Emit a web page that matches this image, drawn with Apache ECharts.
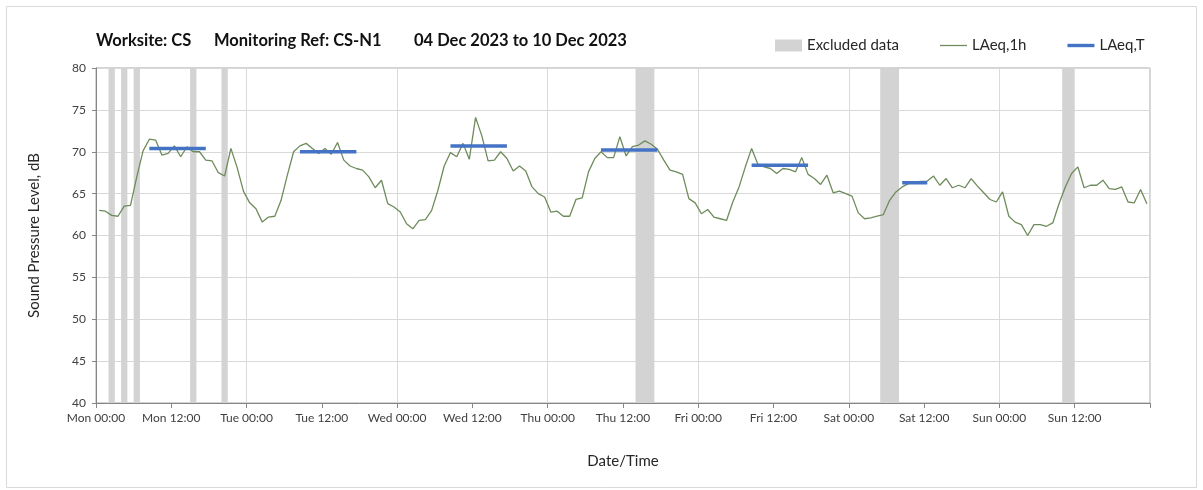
<!DOCTYPE html>
<html>
<head>
<meta charset="utf-8">
<title>CS-N1 noise monitoring</title>
<script src="https://cdn.jsdelivr.net/npm/echarts@6/dist/echarts.min.js"></script>
<style>
  html, body { margin: 0; padding: 0; background: #fff; }
  #chart { width: 1203px; height: 490px; }
</style>
</head>
<body>
<div id="chart"></div>
<script>
// hourly LAeq,1h readings, one array per day (00:00 .. 23:00)
const mon = [63.0, 62.9, 62.4, 62.3, 63.5, 63.6, 67.0, 70.1, 71.5, 71.4, 69.6, 69.8, 70.7, 69.4, 70.6, 70.0, 70.0, 69.0, 68.9, 67.5, 67.1, 70.4, 68.1, 65.3]
const tue = [63.9, 63.2, 61.6, 62.2, 62.3, 64.2, 67.2, 70.0, 70.7, 71.0, 70.4, 69.8, 70.4, 69.7, 71.1, 69.0, 68.3, 68.0, 67.8, 67.0, 65.7, 66.6, 63.8, 63.4]
const wed = [62.8, 61.4, 60.8, 61.8, 61.9, 63.0, 65.4, 68.3, 69.9, 69.4, 71.0, 69.1, 74.1, 71.9, 68.9, 69.0, 70.0, 69.2, 67.7, 68.3, 67.7, 65.8, 65.0, 64.6]
const thu = [62.8, 62.9, 62.3, 62.3, 64.3, 64.5, 67.6, 69.2, 70.0, 69.3, 69.3, 71.8, 69.5, 70.6, 70.8, 71.3, 70.9, 70.3, 69.0, 67.8, 67.6, 67.3, 64.4, 63.9]
const fri = [62.6, 63.1, 62.2, 62.0, 61.8, 64.0, 65.8, 68.2, 70.4, 68.5, 68.2, 68.0, 67.4, 68.0, 67.9, 67.6, 69.3, 67.3, 66.8, 66.1, 67.2, 65.1, 65.3, 65.0]
const sat = [64.7, 62.7, 62.0, 62.1, 62.3, 62.5, 64.2, 65.2, 65.8, 66.2, 66.4, 66.45, 66.5, 67.1, 66.0, 66.8, 65.7, 66.0, 65.7, 66.8, 65.9, 65.1, 64.3, 64.0]
const sun = [65.2, 62.3, 61.6, 61.3, 60.0, 61.3, 61.3, 61.1, 61.5, 63.8, 65.8, 67.4, 68.2, 65.7, 66.0, 66.0, 66.6, 65.6, 65.5, 65.8, 64.0, 63.9, 65.5, 63.8]

// LAeq,T periods (hours from Mon 00:00) and levels
const periodStart = [8.5, 32.5, 56.5, 80.5, 104.5, 128.5]
const periodEnd = [17.5, 41.5, 65.5, 89.5, 113.5, 132.5]
const periodLevel = [70.4, 70.0, 70.7, 70.2, 68.4, 66.3]

// excluded data windows (hours from Mon 00:00)
const excludedStart = [2, 4, 6, 15, 20, 86, 125, 154]
const excludedEnd = [3, 5, 7, 16, 21, 89, 128, 156]

const tickLabels = ['Mon 00:00', 'Mon 12:00', 'Tue 00:00', 'Tue 12:00', 'Wed 00:00', 'Wed 12:00', 'Thu 00:00',
  'Thu 12:00', 'Fri 00:00', 'Fri 12:00', 'Sat 00:00', 'Sat 12:00', 'Sun 00:00', 'Sun 12:00']

const titleParts = ['Worksite: CS', 'Monitoring Ref: CS-N1', '04 Dec 2023 to 10 Dec 2023']
const titleLeft = [96, 214, 414]

const font = 'Lato, "Open Sans", sans-serif'

const hourly = [mon, tue, wed, thu, fri, sat, sun]
const laeq1h = []
hourly.forEach((day, d) => {
  day.forEach((v, h) => laeq1h.push([d * 24 + h + 0.5, v]))
})

const excluded = excludedStart.map((s, i) => [s, excludedEnd[i]])

const periodSeries = periodStart.map((s, i) => ({
  name: 'LAeq,T',
  type: 'line',
  xAxisIndex: 0,
  symbol: 'none',
  z: 4,
  lineStyle: { color: '#4472c4', width: 3.5 },
  itemStyle: { color: '#4472c4' },
  data: [[s, periodLevel[i]], [periodEnd[i], periodLevel[i]]]
}))

const chart = echarts.init(document.getElementById('chart'))
chart.setOption({
  animation: false,
  textStyle: { fontFamily: font },
  title: titleParts.map((t, i) => ({
    text: t,
    left: titleLeft[i],
    top: 32,
    padding: 0,
    textStyle: { fontSize: 16.5, fontWeight: 'bold', color: '#111', fontFamily: font }
  })),
  legend: {
    left: 770,
    top: 33,
    itemGap: 41,
    itemWidth: 27,
    itemHeight: 12,
    textStyle: { fontSize: 15, color: '#262626', fontFamily: font },
    data: [
      { name: 'Excluded data', icon: 'rect' },
      { name: 'LAeq,1h', icon: 'path://M0,0H28V1.3H0Z' },
      { name: 'LAeq,T', icon: 'path://M0,0H28V3.5H0Z' }
    ]
  },
  grid: { left: 96, right: 53, top: 68, bottom: 87, show: true, borderColor: '#a6a6a6', borderWidth: 1 },
  xAxis: [
    {
      type: 'value',
      min: 0,
      max: 168,
      interval: 12,
      name: 'Date/Time',
      nameLocation: 'middle',
      nameGap: 51,
      nameTextStyle: { fontSize: 15, color: '#262626' },
      axisLine: { lineStyle: { color: '#868686' } },
      axisTick: { show: true, length: 5, lineStyle: { color: '#868686' } },
      axisLabel: {
        margin: 9,
        fontSize: 12,
        color: '#404040',
        formatter: v => tickLabels[Math.round(v / 12)] || ''
      },
      splitLine: { show: false }
    },
    {
      // only for the daily vertical gridlines
      type: 'value',
      min: 0,
      max: 168,
      interval: 24,
      position: 'bottom',
      axisLine: { show: false },
      axisTick: { show: false },
      axisLabel: { show: false },
      splitLine: { show: true, lineStyle: { color: '#d9d9d9' } }
    }
  ],
  yAxis: {
    type: 'value',
    min: 40,
    max: 80,
    interval: 5,
    name: 'Sound Pressure Level, dB',
    nameLocation: 'middle',
    nameGap: 54,
    nameTextStyle: { fontSize: 15, color: '#262626' },
    axisLine: { show: true, lineStyle: { color: '#868686' } },
    axisTick: { show: true, length: 4, lineStyle: { color: '#868686' } },
    axisLabel: { fontSize: 12, color: '#404040', margin: 10 },
    splitLine: { lineStyle: { color: '#d9d9d9' } }
  },
  graphic: [
    {
      type: 'rect',
      shape: { x: 6.5, y: 6.5, width: 1190, height: 481 },
      style: { fill: 'none', stroke: '#d9d9d9', lineWidth: 1 },
      silent: true,
      z: -10
    }
  ],
  series: [
    {
      name: 'Excluded data',
      type: 'custom',
      xAxisIndex: 0,
      z: 1,
      itemStyle: { color: '#d3d3d3' },
      encode: { x: [0, 1] },
      renderItem: (params, api) => {
        const p0 = api.coord([api.value(0), 80])
        const p1 = api.coord([api.value(1), 40])
        return {
          type: 'rect',
          shape: { x: p0[0], y: p0[1], width: p1[0] - p0[0], height: p1[1] - p0[1] },
          style: { fill: '#d3d3d3' }
        }
      },
      data: excluded
    },
    {
      name: 'LAeq,1h',
      type: 'line',
      xAxisIndex: 0,
      symbol: 'none',
      z: 3,
      lineStyle: { color: '#6e8b5b', width: 1.3 },
      itemStyle: { color: '#6e8b5b' },
      data: laeq1h
    },
    ...periodSeries
  ]
})
</script>
</body>
</html>
